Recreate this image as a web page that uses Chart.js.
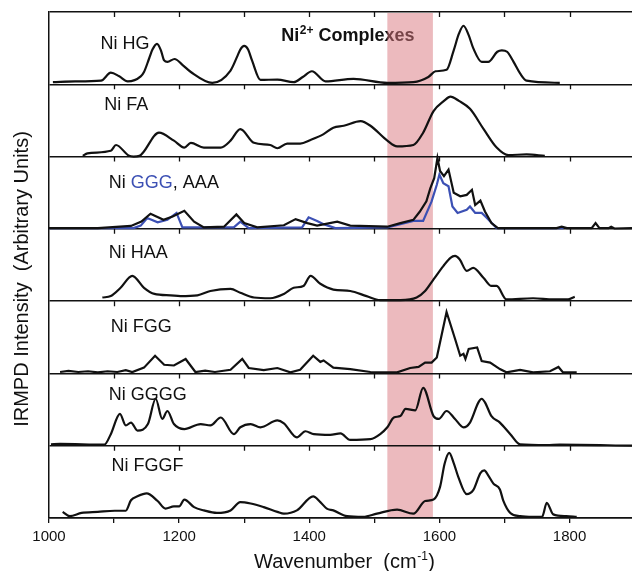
<!DOCTYPE html>
<html><head><meta charset="utf-8">
<script src="https://cdn.jsdelivr.net/npm/chart.js@4/dist/chart.umd.min.js"></script>
<style>html,body{margin:0;padding:0;background:#fff;overflow:hidden}</style>
</head><body>
<canvas id="c" width="632" height="571"></canvas>
<script>
// ---------- data ----------
const panelNames = ['Ni HG', 'Ni FA', 'Ni GGG, AAA', 'Ni HAA', 'Ni FGG', 'Ni GGGG', 'Ni FGGF'];
const xTickValues = [1000, 1100, 1200, 1300, 1400, 1500, 1600, 1700, 1800];
const xTickLabels = [1000, 1200, 1400, 1600, 1800];
const highlightBand = [1520, 1590];

const hgWn  = [1006,1040,1080,1095,1108,1121,1141,1146,1154,1159,1166,1172,1177,1182,1193,1205,1218,1251,1279,1290,1294,1300,1306,1312,1325,1351,1376,1390,1404,1425,1468,1520,1560,1583,1594,1611,1622,1630,1637,1645,1652,1665,1675,1689,1696,1704,1714,1724,1734,1785];
const hgVal = [0.03,0.04,0.05,0.16,0.11,0.04,0.11,0.17,0.36,0.48,0.56,0.47,0.33,0.31,0.35,0.27,0.17,0.02,0.19,0.40,0.48,0.53,0.48,0.33,0.06,0.065,0.03,0.10,0.18,0.04,0.075,0.02,0.03,0.10,0.18,0.20,0.47,0.70,0.81,0.68,0.50,0.31,0.31,0.45,0.47,0.45,0.31,0.15,0.05,0.02];

const faWn  = [1052,1059,1095,1103,1123,1130,1139,1169,1192,1208,1218,1238,1264,1279,1294,1315,1340,1351,1366,1386,1402,1422,1437,1453,1479,1494,1520,1535,1560,1575,1591,1607,1617,1630,1647,1668,1688,1706,1734,1762];
const faVal = [0.01,0.045,0.08,0.16,0.01,0.0,0.01,0.33,0.22,0.125,0.19,0.125,0.125,0.22,0.38,0.19,0.16,0.115,0.18,0.18,0.23,0.31,0.40,0.426,0.49,0.426,0.22,0.14,0.16,0.33,0.63,0.77,0.83,0.77,0.66,0.38,0.125,0.02,0.03,0.01];

const aaaWn  = [1000,1075,1126,1142,1156,1176,1190,1208,1223,1238,1269,1288,1300,1320,1361,1379,1397,1412,1443,1463,1520,1540,1560,1570,1580,1586,1592,1597,1601,1607,1614,1622,1632,1642,1650,1655,1663,1670,1680,1690,1750,1780,1788,1796,1834,1840,1846,1860,1864,1869,1896];
const aaaVal = [0.01,0.01,0.04,0.10,0.21,0.125,0.17,0.25,0.10,0.02,0.03,0.20,0.08,0.02,0.05,0.135,0.08,0.045,0.10,0.045,0.03,0.08,0.125,0.24,0.38,0.56,0.70,0.98,0.80,0.73,0.82,0.50,0.45,0.47,0.54,0.33,0.39,0.24,0.08,0.01,0.01,0.01,0.03,0.01,0.01,0.08,0.01,0.01,0.03,0.005,0.01];

const gggWn  = [1000,1130,1141,1151,1167,1182,1196,1205,1284,1294,1307,1389,1399,1412,1422,1440,1520,1540,1560,1575,1588,1596,1600,1606,1614,1620,1628,1642,1647,1655,1665,1673,1688,1791];
const gggVal = [0.01,0.01,0.045,0.15,0.09,0.125,0.22,0.02,0.02,0.10,0.01,0.02,0.16,0.11,0.065,0.01,0.02,0.065,0.11,0.11,0.38,0.61,0.75,0.63,0.59,0.31,0.22,0.265,0.31,0.22,0.22,0.15,0.01,0.01];

const haaWn  = [1082,1095,1110,1128,1146,1162,1187,1202,1228,1248,1279,1294,1315,1340,1361,1376,1391,1402,1417,1437,1463,1488,1509,1540,1565,1578,1591,1606,1617,1624,1631,1642,1652,1668,1680,1688,1703,1744,1775,1798,1808];
const haaVal = [0.05,0.07,0.185,0.35,0.185,0.10,0.08,0.07,0.08,0.14,0.17,0.115,0.05,0.04,0.10,0.185,0.21,0.35,0.24,0.16,0.14,0.07,0.015,0.015,0.05,0.14,0.30,0.485,0.60,0.625,0.58,0.42,0.46,0.32,0.21,0.21,0.025,0.04,0.025,0.025,0.06];

const fggWn  = [1017,1030,1045,1060,1075,1090,1105,1118,1128,1146,1163,1177,1192,1210,1225,1240,1255,1279,1297,1307,1330,1351,1371,1386,1406,1417,1422,1437,1463,1494,1535,1555,1568,1578,1588,1596,1611,1624,1632,1637,1640,1645,1658,1665,1678,1693,1703,1724,1744,1770,1783,1790,1811];
const fggVal = [0.02,0.035,0.02,0.03,0.015,0.03,0.02,0.045,0.02,0.08,0.245,0.12,0.11,0.20,0.02,0.04,0.02,0.05,0.20,0.075,0.045,0.075,0.015,0.05,0.245,0.16,0.18,0.08,0.06,0.02,0.015,0.075,0.09,0.15,0.15,0.22,0.85,0.48,0.245,0.27,0.20,0.34,0.36,0.17,0.15,0.06,0.015,0.05,0.015,0.03,0.09,0.015,0.015];

const ggggWn  = [1003,1017,1085,1095,1109,1118,1126,1136,1152,1164,1174,1182,1192,1208,1233,1248,1264,1284,1294,1310,1325,1351,1361,1381,1394,1407,1432,1448,1463,1494,1509,1520,1530,1540,1548,1563,1575,1591,1599,1611,1624,1637,1647,1660,1665,1670,1680,1693,1709,1724,1765,1785,1896];
const ggggVal = [0.02,0.025,0.015,0.16,0.44,0.28,0.32,0.21,0.30,0.65,0.37,0.48,0.30,0.23,0.30,0.28,0.39,0.16,0.255,0.30,0.255,0.35,0.31,0.115,0.20,0.16,0.15,0.17,0.08,0.09,0.16,0.255,0.39,0.41,0.51,0.49,0.80,0.41,0.37,0.48,0.37,0.255,0.32,0.60,0.65,0.60,0.41,0.32,0.16,0.02,0.01,0.015,0.0];

const fggfWn  = [1021,1032,1050,1075,1101,1118,1126,1136,1150,1167,1179,1192,1200,1208,1223,1238,1258,1279,1294,1310,1330,1351,1361,1381,1406,1417,1427,1437,1458,1483,1504,1535,1560,1578,1591,1601,1608,1615,1622,1629,1642,1652,1663,1669,1675,1683,1693,1698,1709,1724,1744,1758,1765,1775,1795,1811];
const fggfVal = [0.085,0.025,0.07,0.085,0.10,0.10,0.245,0.30,0.34,0.235,0.13,0.16,0.16,0.255,0.15,0.105,0.07,0.105,0.22,0.20,0.15,0.085,0.06,0.105,0.30,0.22,0.13,0.105,0.025,0.015,0.06,0.115,0.06,0.235,0.255,0.43,0.75,0.90,0.76,0.57,0.33,0.385,0.62,0.66,0.59,0.475,0.395,0.245,0.07,0.025,0.015,0.02,0.21,0.05,0.025,0.015];

// ---------- styling ----------
const BLACK = '#111111';
const BLUE = '#3c50b4';
const FONT = '"Liberation Sans", Arial, Helvetica, sans-serif';

const series = [
  {wn: hgWn,   val: hgVal,   panel: 0, color: BLACK, smooth: true},
  {wn: faWn,   val: faVal,   panel: 1, color: BLACK, smooth: true},
  {wn: aaaWn,  val: aaaVal,  panel: 2, color: BLACK, smooth: false},
  {wn: gggWn,  val: gggVal,  panel: 2, color: BLUE,  smooth: false},
  {wn: haaWn,  val: haaVal,  panel: 3, color: BLACK, smooth: true},
  {wn: fggWn,  val: fggVal,  panel: 4, color: BLACK, smooth: false},
  {wn: ggggWn, val: ggggVal, panel: 5, color: BLACK, smooth: true},
  {wn: fggfWn, val: fggfVal, panel: 6, color: BLACK, smooth: true}
];

// label placement: x in wavenumber, dy = baseline offset (px) below panel top
const labelPlace = [
  {x: 1079, dy: 37}, {x: 1085, dy: 26}, {x: 1092, dy: 31}, {x: 1092, dy: 29},
  {x: 1095, dy: 31}, {x: 1092, dy: 27}, {x: 1096, dy: 25}
];
const labelParts = panelNames.map(n => n === 'Ni GGG, AAA'
  ? [['Ni ', BLACK], ['GGG', BLUE], [', AAA', BLACK]]
  : [[n, BLACK]]);

const nPanels = panelNames.length;

const decor = {
  id: 'decor',
  beforeDraw(chart) {
    const {ctx, chartArea: a, scales: {x}} = chart;
    ctx.save();
    ctx.fillStyle = BLACK;
    ctx.textBaseline = 'alphabetic';
    ctx.textAlign = 'left';
    let px = x.getPixelForValue(1357), py = a.top + 28.5;
    ctx.font = 'bold 18px ' + FONT;
    ctx.fillText('Ni', px, py); px += ctx.measureText('Ni').width + 0.5;
    ctx.font = 'bold 12px ' + FONT;
    ctx.fillText('2+', px, py - 7); px += ctx.measureText('2+').width;
    ctx.font = 'bold 18px ' + FONT;
    ctx.fillText(' Complexes', px, py);
    const x0 = x.getPixelForValue(highlightBand[0]);
    const x1 = x.getPixelForValue(highlightBand[1]);
    ctx.fillStyle = 'rgba(217,117,125,0.5)';
    ctx.fillRect(x0, a.top + 1, x1 - x0, a.bottom - a.top - 1);
    ctx.restore();
  },
  afterDatasetsDraw(chart) {
    const {ctx, scales: {x, y}} = chart;
    ctx.save();
    ctx.strokeStyle = BLACK;
    ctx.lineWidth = 1.3;
    ctx.beginPath();
    for (let k = 1; k <= nPanels; k++) {
      const yy = y.getPixelForValue(k);
      xTickValues.forEach(v => {
        if (v === 1000) return;
        const xx = Math.round(x.getPixelForValue(v)) + 0.5;
        ctx.moveTo(xx, yy);
        ctx.lineTo(xx, yy + 5);
      });
    }
    ctx.stroke();
    ctx.font = '18px ' + FONT;
    ctx.textBaseline = 'alphabetic';
    ctx.textAlign = 'left';
    labelParts.forEach((parts, i) => {
      const top = y.getPixelForValue(nPanels - i);
      let px = x.getPixelForValue(labelPlace[i].x);
      const py = top + labelPlace[i].dy;
      parts.forEach(([t, c]) => {
        ctx.fillStyle = c;
        ctx.fillText(t, px, py);
        px += ctx.measureText(t).width;
      });
    });
    ctx.fillStyle = BLACK;
    const t1 = 'Wavenumber  (cm', t2 = '-1', t3 = ')';
    ctx.font = '20px ' + FONT; const w1 = ctx.measureText(t1).width, w3 = ctx.measureText(t3).width;
    ctx.font = '12px ' + FONT; const w2 = ctx.measureText(t2).width;
    let sx = 344.5 - (w1 + w2 + w3 + 1) / 2;
    const by = 567.5;
    ctx.font = '20px ' + FONT; ctx.fillText(t1, sx, by); sx += w1 + 0.5;
    ctx.font = '12px ' + FONT; ctx.fillText(t2, sx, by - 8); sx += w2 + 0.5;
    ctx.font = '20px ' + FONT; ctx.fillText(t3, sx, by);
    ctx.translate(22.5, 279);
    ctx.rotate(-Math.PI / 2);
    ctx.textAlign = 'center';
    ctx.textBaseline = 'middle';
    ctx.font = '20px ' + FONT;
    ctx.fillText('IRMPD Intensity  (Arbitrary Units)', 0, 0);
    ctx.restore();
  }
};

new Chart(document.getElementById('c'), {
  type: 'line',
  data: {
    datasets: series.map(s => ({
      data: s.wn.map((w, i) => ({x: w, y: s.val[i] + (nPanels - 1 - s.panel)})),
      borderColor: s.color,
      borderWidth: 2.2,
      pointRadius: 0,
      fill: false,
      tension: 0,
      cubicInterpolationMode: s.smooth ? 'monotone' : 'default'
    }))
  },
  options: {
    responsive: false,
    animation: false,
    devicePixelRatio: 1,
    layout: {padding: {top: 12, left: 0, right: 0, bottom: 0}},
    plugins: {legend: {display: false}, tooltip: {enabled: false}},
    scales: {
      x: {
        type: 'linear', min: 1000, max: 1896,
        afterBuildTicks: s => { s.ticks = xTickValues.map(v => ({value: v})); },
        afterFit: s => { s.height = 53; },
        grid: {drawOnChartArea: false, drawTicks: true, tickLength: 5, color: BLACK, lineWidth: 1.3},
        border: {display: true, color: BLACK, width: 1.5},
        ticks: {
          autoSkip: false, maxRotation: 0, padding: 5, color: BLACK,
          font: {family: FONT, size: 15},
          callback: v => xTickLabels.includes(v) ? String(v) : ''
        }
      },
      y: {
        type: 'linear', min: 0, max: nPanels,
        afterBuildTicks: s => { s.ticks = Array.from({length: nPanels + 1}, (_, i) => ({value: i})); },
        afterFit: s => { s.width = 49; },
        grid: {drawTicks: false, color: BLACK, lineWidth: 1.5},
        border: {display: true, color: BLACK, width: 1.5},
        ticks: {display: false}
      }
    }
  },
  plugins: [decor]
});
</script>
</body></html>
